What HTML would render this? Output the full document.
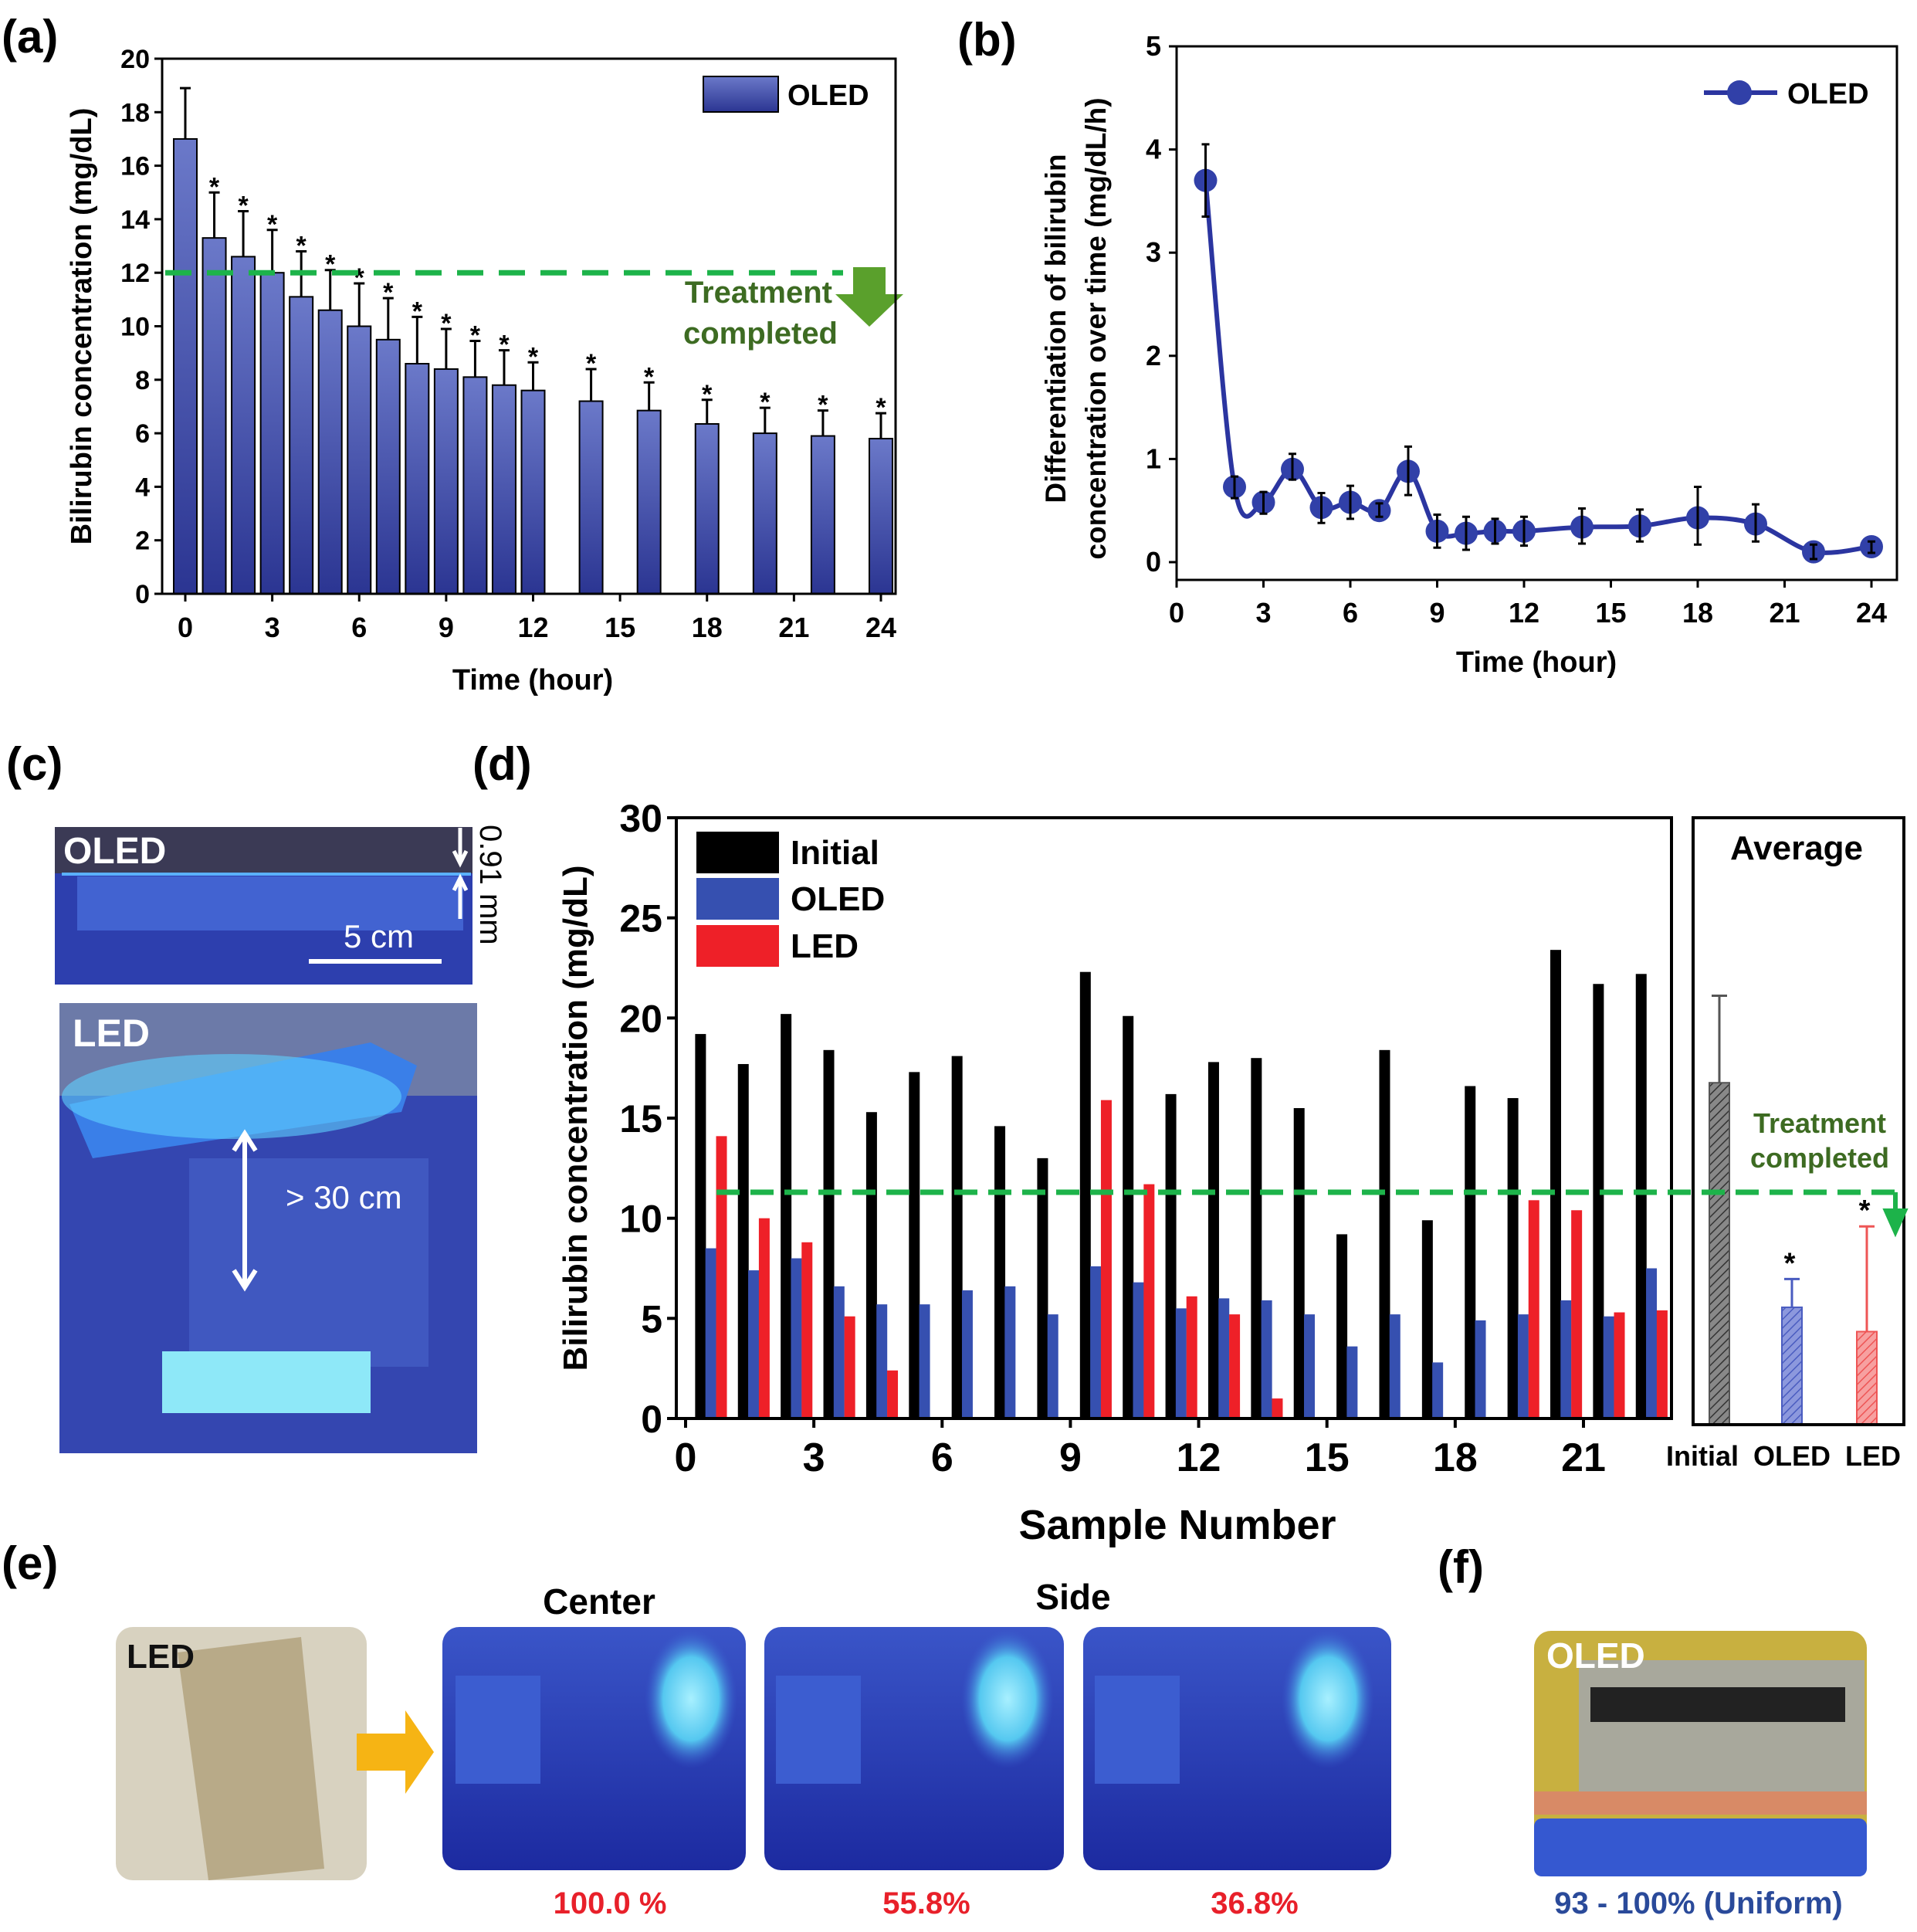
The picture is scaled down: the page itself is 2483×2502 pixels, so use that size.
<!DOCTYPE html>
<html><head><meta charset="utf-8"><style>
html,body{margin:0;padding:0;background:#fff}
svg text{font-family:"Liberation Sans",Arial,sans-serif;font-weight:bold}
</style></head><body>
<svg id="fig" xmlns="http://www.w3.org/2000/svg" width="2483" height="2497" viewBox="0 0 2483 2497">
<defs>
<linearGradient id="barGrad" x1="0" y1="0" x2="0" y2="1"><stop offset="0" stop-color="#6b79c9"/><stop offset="1" stop-color="#2b3592"/></linearGradient>
<pattern id="hatchGray" width="8" height="8" patternUnits="userSpaceOnUse" patternTransform="rotate(45)"><rect width="8" height="8" fill="#888"/><line x1="0" y1="0" x2="0" y2="8" stroke="#333" stroke-width="3"/></pattern>
<pattern id="hatchBlue" width="8" height="8" patternUnits="userSpaceOnUse" patternTransform="rotate(45)"><rect width="8" height="8" fill="#8c98dd"/><line x1="0" y1="0" x2="0" y2="8" stroke="#4a5cc0" stroke-width="3"/></pattern>
<pattern id="hatchRed" width="8" height="8" patternUnits="userSpaceOnUse" patternTransform="rotate(45)"><rect width="8" height="8" fill="#f7a0a0"/><line x1="0" y1="0" x2="0" y2="8" stroke="#ee5555" stroke-width="3"/></pattern>
<linearGradient id="blueGlow" x1="0" y1="0" x2="0" y2="1"><stop offset="0" stop-color="#3a55c8"/><stop offset="1" stop-color="#1c2aa0"/></linearGradient>
<radialGradient id="cyanSpot" cx="0.5" cy="0.5" r="0.5"><stop offset="0" stop-color="#a8f0ff"/><stop offset="0.6" stop-color="#55c8f0"/><stop offset="1" stop-color="#3a60d0" stop-opacity="0"/></radialGradient>
</defs>

<text x="2" y="68" font-size="60">(a)</text>
<text x="1240" y="72" font-size="60">(b)</text>
<text x="8" y="1010" font-size="60">(c)</text>
<text x="612" y="1010" font-size="60">(d)</text>
<text x="2" y="2045" font-size="60">(e)</text>
<text x="1862" y="2050" font-size="60">(f)</text>

<g id="panelA"></g>
<g id="panelB"></g>
<g id="panelD"></g>

<g>
  <g>
    <rect x="71" y="1071" width="541" height="204" fill="#2d3fae"/>
    <rect x="71" y="1071" width="541" height="60" fill="#3b3a55"/>
    <rect x="100" y="1135" width="500" height="70" fill="#4c74e0" opacity="0.7"/>
    <rect x="80" y="1130" width="530" height="4" fill="#5ab0ff"/>
    <text x="82" y="1118" font-size="48" fill="#fff">OLED</text>
    <line x1="400" y1="1245" x2="572" y2="1245" stroke="#fff" stroke-width="6"/>
    <text x="445" y="1227" font-size="42" fill="#fff" style="font-weight:normal">5 cm</text>
    <path d="M596 1072 V1115 M588 1102 L596 1118 L604 1102" stroke="#fff" stroke-width="5" fill="none"/>
    <path d="M596 1190 V1140 M588 1153 L596 1137 L604 1153" stroke="#fff" stroke-width="5" fill="none"/>
    <text transform="translate(622,1068) rotate(90)" font-size="40" style="font-weight:normal">0.91 mm</text>
  </g>
  <g>
    <rect x="77" y="1299" width="541" height="583" fill="#3446b0"/>
    <rect x="77" y="1299" width="541" height="120" fill="#6c7aa8"/>
    <polygon points="90,1430 480,1350 540,1380 520,1440 120,1500" fill="#3a7fe8"/>
    <ellipse cx="300" cy="1420" rx="220" ry="55" fill="#5fd0ff" opacity="0.6"/>
    <rect x="245" y="1500" width="310" height="270" fill="#4058c0"/>
    <rect x="210" y="1750" width="270" height="80" fill="#8ee8f8"/>
    <text x="94" y="1355" font-size="50" fill="#fff">LED</text>
    <path d="M317 1470 V1665 M303 1490 L317 1468 L331 1490 M303 1645 L317 1667 L331 1645" stroke="#fff" stroke-width="6" fill="none"/>
    <text x="370" y="1565" font-size="42" fill="#fff" style="font-weight:normal">&gt; 30 cm</text>
  </g>
</g>

<g>
  <g>
    <rect x="150" y="2107" width="325" height="328" rx="22" fill="#d8d2c0"/>
    <polygon points="230,2140 390,2120 420,2420 270,2435" fill="#b8aa88"/>
    <text x="164" y="2160" font-size="44" fill="#111">LED</text>
  </g>
  <polygon points="462,2245 525,2245 525,2215 562,2269 525,2323 525,2293 462,2293" fill="#f6b414"/>
  <text x="776" y="2090" font-size="46" text-anchor="middle">Center</text>
  <text x="1390" y="2084" font-size="46" text-anchor="middle">Side</text>
  <g><rect x="573" y="2107" width="393" height="315" rx="22" fill="url(#blueGlow)"/><ellipse cx="895" cy="2200" rx="60" ry="90" fill="url(#cyanSpot)"/><rect x="590" y="2170" width="110" height="140" fill="#3c5dd0"/></g>
  <g><rect x="990" y="2107" width="388" height="315" rx="22" fill="url(#blueGlow)"/><ellipse cx="1305" cy="2200" rx="60" ry="90" fill="url(#cyanSpot)"/><rect x="1005" y="2170" width="110" height="140" fill="#3c5dd0"/></g>
  <g><rect x="1403" y="2107" width="399" height="315" rx="22" fill="url(#blueGlow)"/><ellipse cx="1720" cy="2200" rx="60" ry="90" fill="url(#cyanSpot)"/><rect x="1418" y="2170" width="110" height="140" fill="#3c5dd0"/></g>
  <text x="790" y="2478" font-size="40" fill="#e8202a" text-anchor="middle">100.0 %</text>
  <text x="1200" y="2478" font-size="40" fill="#e8202a" text-anchor="middle">55.8%</text>
  <text x="1625" y="2478" font-size="40" fill="#e8202a" text-anchor="middle">36.8%</text>
</g>

<g>
  <rect x="1987" y="2112" width="431" height="318" rx="22" fill="#c8b040"/>
  <rect x="2045" y="2150" width="370" height="180" fill="#a8a89c"/>
  <rect x="2060" y="2185" width="330" height="45" fill="#222"/>
  <rect x="1987" y="2320" width="431" height="30" fill="#d88a66"/>
  <rect x="1987" y="2355" width="431" height="75" rx="10" fill="#3558d0"/>
  <text x="2003" y="2160" font-size="46" fill="#fff">OLED</text>
  <text x="2200" y="2478" font-size="40" fill="#2a4a9a" text-anchor="middle">93 - 100% (Uniform)</text>
</g>
</svg>

<script>
// ===== Panel (a) data =====
const aHours = [0,1,2,3,4,5,6,7,8,9,10,11,12,14,16,18,20,22,24];
const aValues = [17.0,13.3,12.6,12.0,11.1,10.6,10.0,9.5,8.6,8.4,8.1,7.8,7.6,7.2,6.85,6.35,6.0,5.9,5.8];
const aErrTop = [18.9,15.0,14.3,13.6,12.8,12.1,11.6,11.05,10.35,9.9,9.45,9.1,8.65,8.4,7.9,7.25,6.95,6.85,6.75];
const aYTicks = [0,2,4,6,8,10,12,14,16,18,20];
const aXTicks = [0,3,6,9,12,15,18,21,24];
const aThreshold = 12;

// ===== Panel (b) data =====
const bHours = [1,2,3,4,5,6,7,8,9,10,11,12,14,16,18,20,22,24];
const bValues = [3.7,0.73,0.58,0.9,0.53,0.58,0.5,0.88,0.3,0.28,0.3,0.3,0.34,0.35,0.43,0.37,0.1,0.15];
const bErrLo = [3.35,0.62,0.47,0.8,0.38,0.42,0.44,0.65,0.14,0.12,0.18,0.16,0.18,0.2,0.17,0.2,0.03,0.09];
const bErrHi = [4.05,0.83,0.68,1.05,0.67,0.74,0.57,1.12,0.46,0.44,0.42,0.44,0.52,0.51,0.73,0.56,0.17,0.2];
const bYTicks = [0,1,2,3,4,5];
const bXTicks = [0,3,6,9,12,15,18,21,24];

// ===== Panel (d) data =====
const dInitial = [19.2,17.7,20.2,18.4,15.3,17.3,18.1,14.6,13.0,22.3,20.1,16.2,17.8,18.0,15.5,9.2,18.4,9.9,16.6,16.0,23.4,21.7,22.2];
const dOLED = [8.5,7.4,8.0,6.6,5.7,5.7,6.4,6.6,5.2,7.6,6.8,5.5,6.0,5.9,5.2,3.6,5.2,2.8,4.9,5.2,5.9,5.1,7.5];
const dLED = [14.1,10.0,8.8,5.1,2.4,0,0,0,0,15.9,11.7,6.1,5.2,1.0,0,0,0,0,0,10.9,10.4,5.3,5.4];
const dYTicks = [0,5,10,15,20,25,30];
const dXTicks = [0,3,6,9,12,15,18,21];
const avgLabels = ["Initial","OLED","LED"];
const avgValues = [16.9,5.8,4.6];
const avgErrTop = [21.2,7.2,9.8];
const dThreshold = 11.3;

const NS = "http://www.w3.org/2000/svg";
function mk(parent, tag, attrs, text){
  const e = document.createElementNS(NS, tag);
  for (const k in attrs) e.setAttribute(k, attrs[k]);
  if (text !== undefined) e.textContent = text;
  parent.appendChild(e);
  return e;
}

// ---------- Panel A ----------
(function(){
  const g = document.getElementById('panelA');
  const L=210, R=1160, T=76, B=769;
  const x = h => 240 + h*(1141-240)/24;
  const y = v => B - v*(B-T)/20;
  aHours.forEach((h,i)=>{
    const bw=30;
    const r = mk(g,'rect',{x:x(h)-bw/2,y:y(aValues[i]),width:bw,height:B-y(aValues[i]),fill:'url(#barGrad)',stroke:'#000','stroke-width':2});
    
    
    const e = mk(g,'path',{d:`M${x(h)} ${y(aValues[i])} V${y(aErrTop[i])} M${x(h)-7} ${y(aErrTop[i])} H${x(h)+7}`,stroke:'#000','stroke-width':3,fill:'none'});
    
    
    if(i>0){
      const s = mk(g,'text',{x:x(h),y:y(aErrTop[i])+4,'font-size':34,'text-anchor':'middle'},'*');
      
      
    }
  });
  const th = mk(g,'line',{x1:L+4,y1:y(aThreshold),x2:1092,y2:y(aThreshold),stroke:'#1db34a','stroke-width':7,'stroke-dasharray':'34 20'});
  
  
  const ar = mk(g,'polygon',{points:'1105,346 1147,346 1147,381 1170,381 1126,423 1082,381 1105,381',fill:'#5aa02c'});
  
  
  const t1 = mk(g,'text',{x:1078,y:392,'font-size':40,fill:'#3d6b22','text-anchor':'end'},'Treatment');
  
  
  const t2 = mk(g,'text',{x:1085,y:445,'font-size':40,fill:'#3d6b22','text-anchor':'end'},'completed');
  
  
  const fr = mk(g,'rect',{x:L,y:T,width:R-L,height:B-T,fill:'none',stroke:'#000','stroke-width':3});
  
  
  aYTicks.forEach(v=>{
    mk(g,'line',{x1:L-10,y1:y(v),x2:L,y2:y(v),stroke:'#000','stroke-width':3});
    const t = mk(g,'text',{x:L-16,y:y(v)+12,'font-size':34,'text-anchor':'end'},v);
    
    
  });
  aXTicks.forEach(v=>{
    mk(g,'line',{x1:x(v),y1:B,x2:x(v),y2:B+10,stroke:'#000','stroke-width':3});
    const t = mk(g,'text',{x:x(v),y:B+56,'font-size':36,'text-anchor':'middle'},v);
    
    
  });
  const yt = mk(g,'text',{transform:`translate(118,${(T+B)/2}) rotate(-90)`,'font-size':38,'text-anchor':'middle'},'Bilirubin concentration (mg/dL)');
  
  
  const xt = mk(g,'text',{x:690,y:893,'font-size':38,'text-anchor':'middle'},'Time (hour)');
  
  
  const lg = mk(g,'rect',{x:911,y:99,width:97,height:46,fill:'url(#barGrad)',stroke:'#000','stroke-width':2});
  
  
  const lt = mk(g,'text',{x:1020,y:136,'font-size':38},'OLED');
  
  
})();

// ---------- Panel B ----------
(function(){
  const g = document.getElementById('panelB');
  const L=1524, R=2457, T=60, B=751;
  const x = h => 1524 + h*(2424-1524)/24;
  const y = v => 728 - v*(728-60)/5;
  const pts = bHours.map((h,i)=>[x(h),y(bValues[i])]);
  let d = `M${pts[0][0]} ${pts[0][1]}`;
  for(let i=0;i<pts.length-1;i++){
    const p0=pts[Math.max(0,i-1)],p1=pts[i],p2=pts[i+1],p3=pts[Math.min(pts.length-1,i+2)];
    const c1=[p1[0]+(p2[0]-p0[0])/6,p1[1]+(p2[1]-p0[1])/6];
    const c2=[p2[0]-(p3[0]-p1[0])/6,p2[1]-(p3[1]-p1[1])/6];
    d+=` C${c1[0]} ${c1[1]} ${c2[0]} ${c2[1]} ${p2[0]} ${p2[1]}`;
  }
  const line = mk(g,'path',{d:d,stroke:'#2b35a0','stroke-width':6,fill:'none'});
  
  
  bHours.forEach((h,i)=>{
    const c = mk(g,'circle',{cx:x(h),cy:y(bValues[i]),r:15,fill:'#3140a8'});
    
    
    const e = mk(g,'path',{d:`M${x(h)} ${y(bErrLo[i])} V${y(bErrHi[i])} M${x(h)-5} ${y(bErrLo[i])} H${x(h)+5} M${x(h)-5} ${y(bErrHi[i])} H${x(h)+5}`,stroke:'#000','stroke-width':3,fill:'none'});
    
    
  });
  const fr = mk(g,'rect',{x:L,y:T,width:R-L,height:B-T,fill:'none',stroke:'#000','stroke-width':3});
  
  
  bYTicks.forEach(v=>{
    mk(g,'line',{x1:L-10,y1:y(v),x2:L,y2:y(v),stroke:'#000','stroke-width':3});
    const t = mk(g,'text',{x:L-20,y:y(v)+12,'font-size':36,'text-anchor':'end'},v);
    
    
  });
  bXTicks.forEach(v=>{
    mk(g,'line',{x1:x(v),y1:B,x2:x(v),y2:B+10,stroke:'#000','stroke-width':3});
    const t = mk(g,'text',{x:x(v),y:B+55,'font-size':36,'text-anchor':'middle'},v);
    
    
  });
  const y1 = mk(g,'text',{transform:`translate(1380,${(T+B)/2+20}) rotate(-90)`,'font-size':37,'text-anchor':'middle'},'Differentiation of bilirubin');
  
  
  const y2 = mk(g,'text',{transform:`translate(1432,${(T+B)/2+20}) rotate(-90)`,'font-size':37,'text-anchor':'middle'},'concentration over time (mg/dL/h)');
  
  
  const xt = mk(g,'text',{x:1990,y:870,'font-size':38,'text-anchor':'middle'},'Time (hour)');
  
  
  const ll = mk(g,'line',{x1:2207,y1:120,x2:2302,y2:120,stroke:'#2b35a0','stroke-width':6});
  
  
  mk(g,'circle',{cx:2253,cy:120,r:16,fill:'#3140a8'});
  const lt = mk(g,'text',{x:2315,y:134,'font-size':38},'OLED');
  
  
})();

// ---------- Panel D ----------
(function(){
  const g = document.getElementById('panelD');
  const L=876, R=2165, T=1059, B=1837;
  const x = s => 888 + s*(2051-888)/21;
  const y = v => B - v*(B-T)/30;
  const bw=14;
  const series=[[dInitial,'#000',0.35,'initial'],[dOLED,'#3650b0',0.59,'oled'],[dLED,'#ee2028',0.84,'led']];
  series.forEach(([vals,col,off,nm])=>{
    vals.forEach((v,i)=>{
      if(v <= 0) return;
      const r = mk(g,'rect',{x:x(i+off)-bw/2,y:y(v),width:bw,height:B-y(v),fill:col});
      
      
    });
  });
  const fr = mk(g,'rect',{x:L,y:T,width:R-L,height:B-T,fill:'none',stroke:'#000','stroke-width':4});
  
  
  dYTicks.forEach(v=>{
    mk(g,'line',{x1:L-12,y1:y(v),x2:L,y2:y(v),stroke:'#000','stroke-width':4});
    const t = mk(g,'text',{x:L-18,y:y(v)+18,'font-size':50,'text-anchor':'end'},v);
    
    
  });
  dXTicks.forEach(v=>{
    mk(g,'line',{x1:x(v),y1:B,x2:x(v),y2:B+12,stroke:'#000','stroke-width':4});
    const t = mk(g,'text',{x:x(v),y:B+68,'font-size':52,'text-anchor':'middle'},v);
    
    
  });
  const AL=2193, AR=2466, AB=1845;
  const ay = v => AB - v*(AB-T)/30;
  const ax = [2227,2321,2418];
  const fills=['url(#hatchGray)','url(#hatchBlue)','url(#hatchRed)'];
  const ecol=['#555','#4a5cc0','#ee5555'];
  avgValues.forEach((v,i)=>{
    const r = mk(g,'rect',{x:ax[i]-13,y:ay(v),width:26,height:AB-ay(v),fill:fills[i],stroke:ecol[i],'stroke-width':2});
    
    
    const e = mk(g,'path',{d:`M${ax[i]} ${ay(v)} V${ay(avgErrTop[i])} M${ax[i]-10} ${ay(avgErrTop[i])} H${ax[i]+10}`,stroke:ecol[i],'stroke-width':3,fill:'none'});
    
    
    const t = mk(g,'text',{x:ax[i]+(i==0?-22:i==2?8:0),y:1898,'font-size':36,'text-anchor':'middle'},avgLabels[i]);
    
    
    if(i>0){
      const s = mk(g,'text',{x:ax[i]-3,y:ay(avgErrTop[i])-8,'font-size':38,'text-anchor':'middle'},'*');
      
      
    }
  });
  const af = mk(g,'rect',{x:AL,y:T,width:AR-AL,height:AB-T,fill:'none',stroke:'#000','stroke-width':4});
  
  
  const at = mk(g,'text',{x:2327,y:1113,'font-size':44,'text-anchor':'middle'},'Average');
  
  
  const th = mk(g,'line',{x1:928,y1:y(dThreshold),x2:2455,y2:y(dThreshold),stroke:'#1db34a','stroke-width':7,'stroke-dasharray':'30 14'});
  
  
  const ar = mk(g,'path',{d:`M2455 ${y(dThreshold)} V1585 M2443 1568 L2455 1595 L2467 1568 Z`,stroke:'#1db34a','stroke-width':6,fill:'#1db34a'});
  
  
  const t1 = mk(g,'text',{x:2357,y:1467,'font-size':36,fill:'#3d6b22','text-anchor':'middle'},'Treatment');
  
  
  const t2 = mk(g,'text',{x:2357,y:1512,'font-size':36,fill:'#3d6b22','text-anchor':'middle'},'completed');
  
  
  const leg=[['Initial','#000',1077],['OLED','#3650b0',1137],['LED','#ee2028',1198]];
  leg.forEach(([n,c,yy])=>{
    const r = mk(g,'rect',{x:902,y:yy,width:107,height:54,fill:c});
    
    
    const t = mk(g,'text',{x:1024,y:yy+42,'font-size':44},n);
    
    
  });
  const yt = mk(g,'text',{transform:`translate(760,${(T+B)/2}) rotate(-90)`,'font-size':44,'text-anchor':'middle'},'Bilirubin concentration (mg/dL)');
  
  
  const xt = mk(g,'text',{x:1525,y:1993,'font-size':54,'text-anchor':'middle'},'Sample Number');
  
  
})();
</script>
</body></html>
